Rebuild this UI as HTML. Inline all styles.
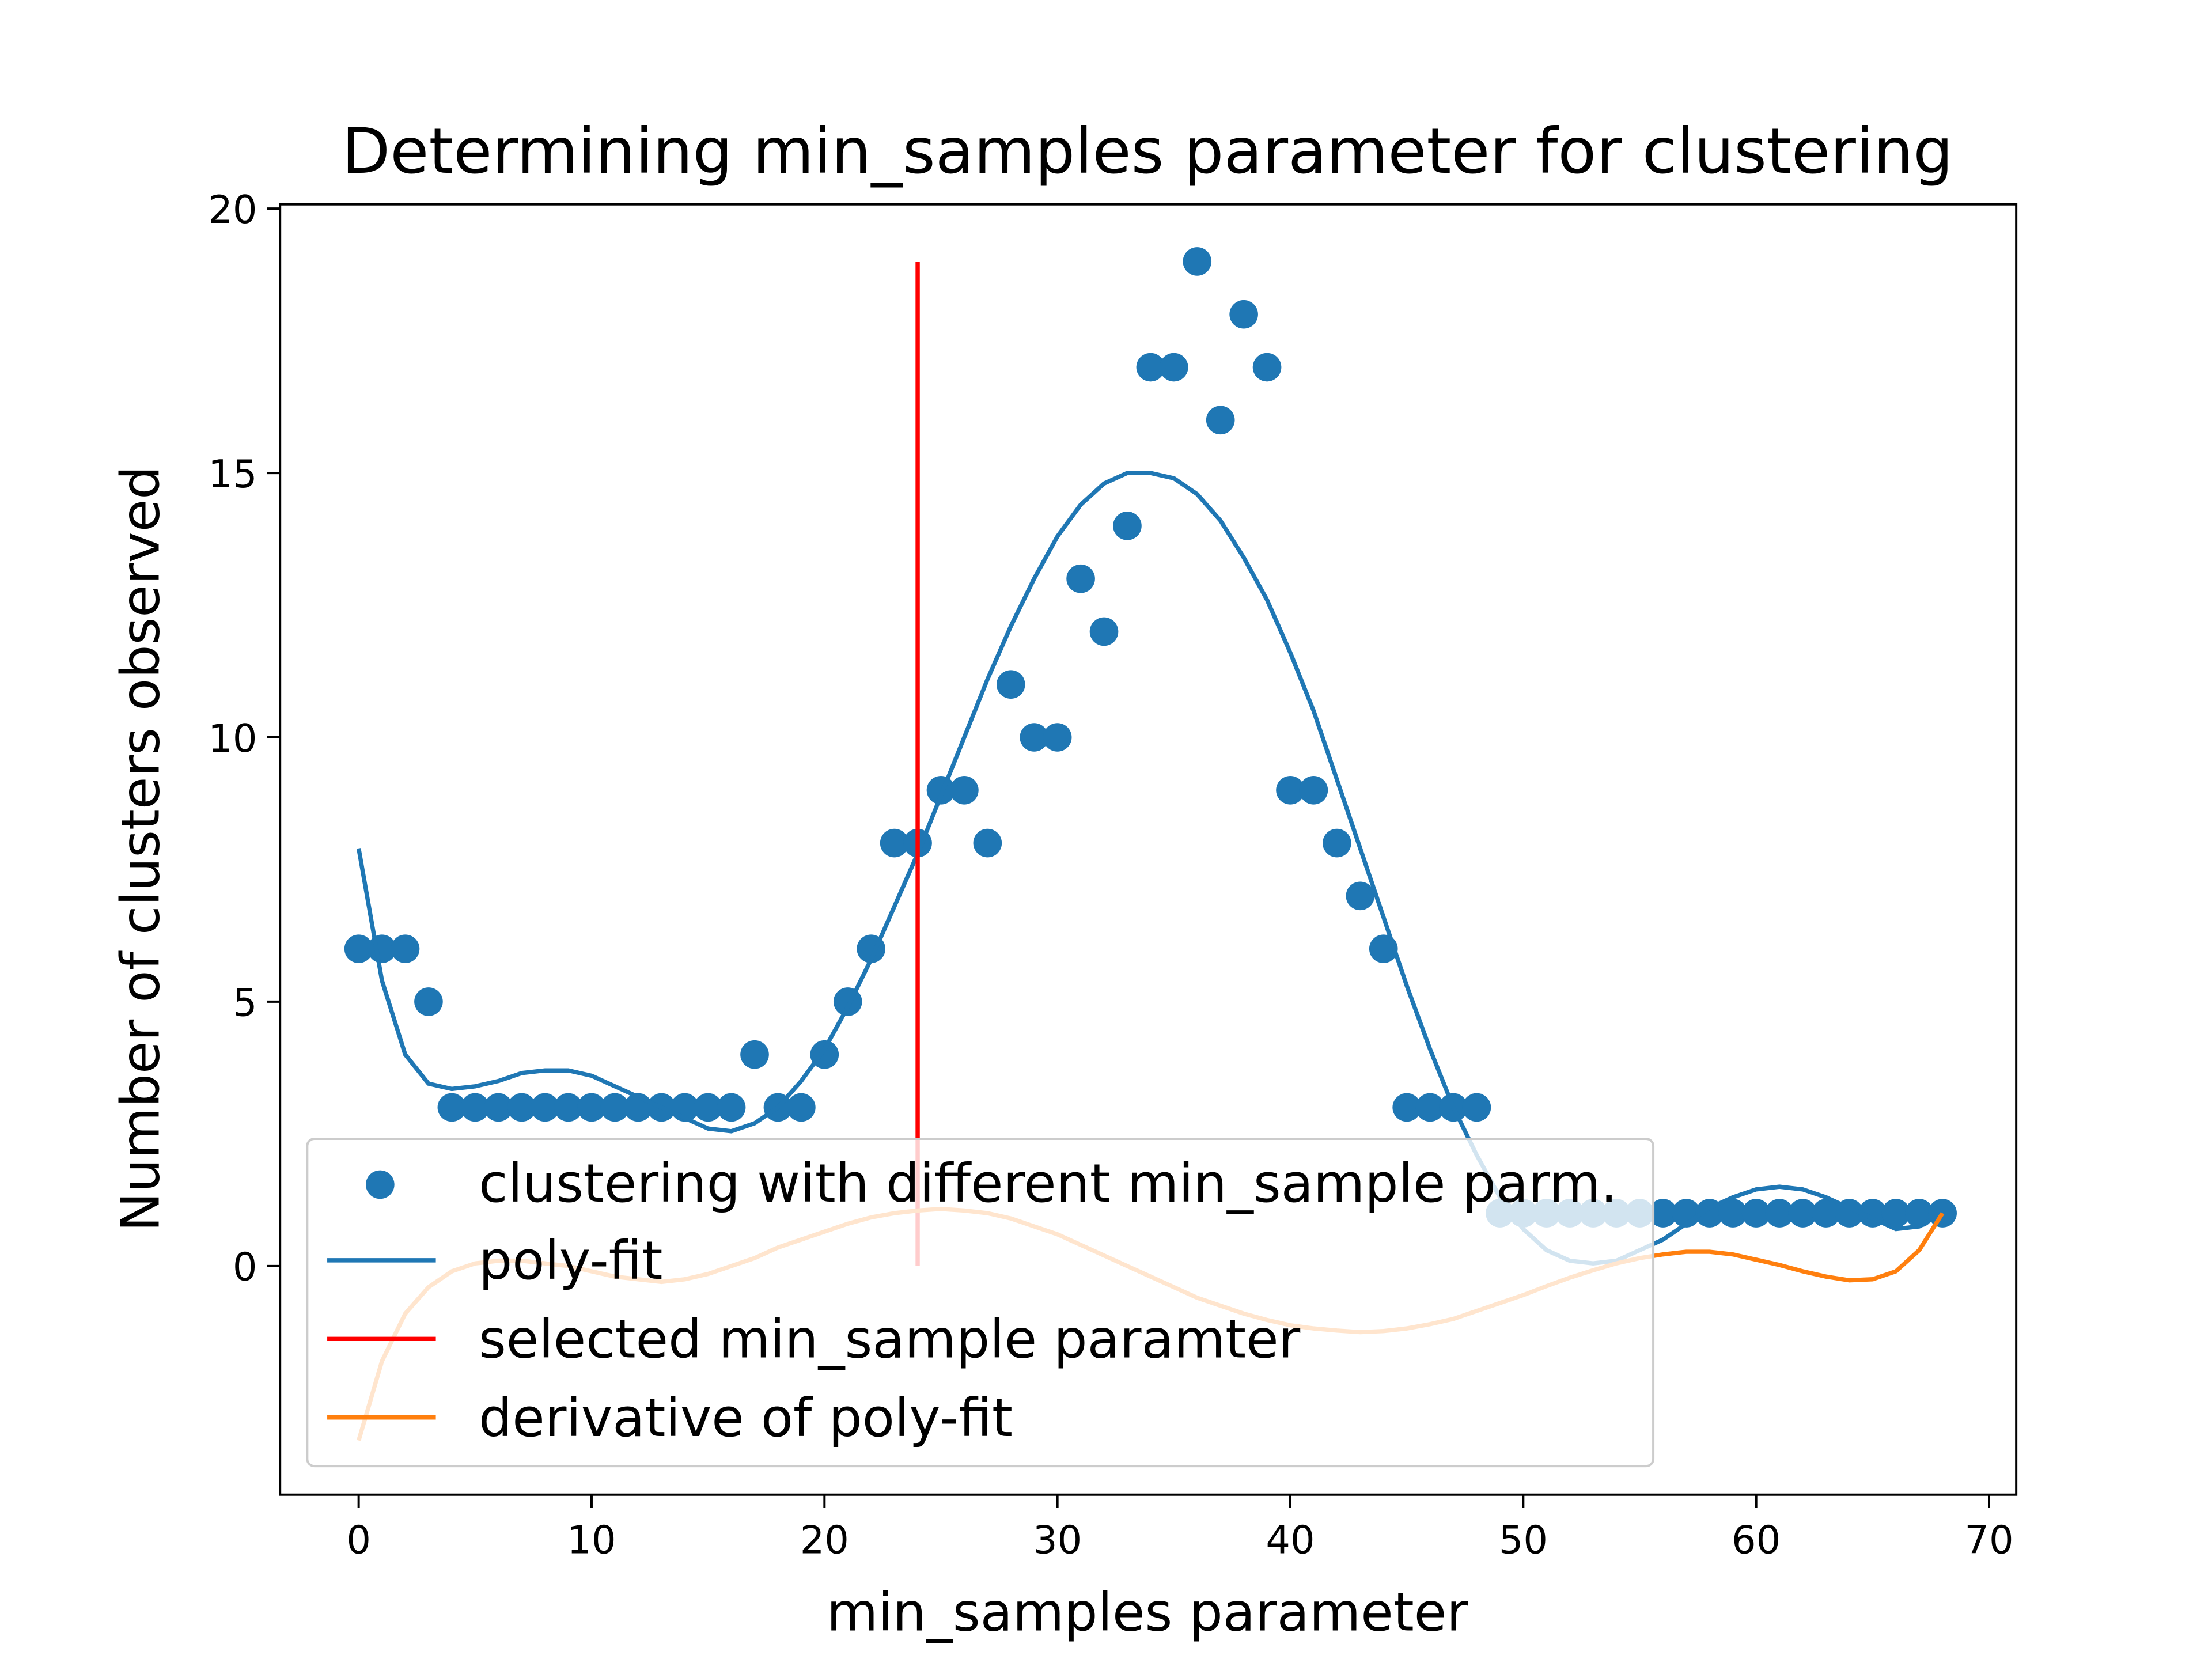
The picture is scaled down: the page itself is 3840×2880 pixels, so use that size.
<!DOCTYPE html>
<html><head><meta charset="utf-8"><style>html,body{margin:0;padding:0;background:#fff}svg{display:block}text{font-family:"DejaVu Sans","Liberation Sans",sans-serif}</style></head>
<body>
<svg id="chart" width="3840" height="2880" viewBox="0 0 1548 1161" xmlns="http://www.w3.org/2000/svg">
<rect width="1548" height="1161" fill="#fff"/>
<text x="803" y="121" font-size="44" text-anchor="middle">Determining min_samples parameter for clustering</text>
<g id="plot"></g>
<rect x="196" y="143" width="1215" height="903" fill="none" stroke="#000" stroke-width="1.6"/>
<g id="ticks"></g>
<text x="803" y="1141" font-size="37" text-anchor="middle">min_samples parameter</text>
<text transform="translate(111,594) rotate(-90)" font-size="37" text-anchor="middle">Number of clusters observed</text>
<g id="legend">
<rect x="215" y="797" width="942" height="229" rx="5" fill="#fff" fill-opacity="0.8" stroke="#ccc" stroke-width="1.6"/>
<circle cx="266" cy="829" r="10" fill="#1f77b4"/>
<text x="335" y="841" font-size="37">clustering with different min_sample parm.</text>
<line x1="229" y1="882" x2="305" y2="882" stroke="#1f77b4" stroke-width="3"/>
<text x="335" y="895" font-size="37">poly-fit</text>
<line x1="229" y1="937" x2="305" y2="937" stroke="#ff0000" stroke-width="3"/>
<text x="335" y="950" font-size="37">selected min_sample paramter</text>
<line x1="229" y1="992" x2="305" y2="992" stroke="#ff7f0e" stroke-width="3"/>
<text x="335" y="1005" font-size="37">derivative of poly-fit</text>
</g>
</svg>
<script>
const clusters=[6,6,6,5,3,3,3,3,3,3,3,3,3,3,3,3,3,4,3,3,4,5,6,8,8,9,9,8,11,10,10,13,12,14,17,17,19,16,18,17,9,9,8,7,6,3,3,3,3,1,1,1,1,1,1,1,1,1,1,1,1,1,1,1,1,1,1,1,1];
const polyFit=[7.9,5.4,4.0,3.45,3.35,3.4,3.5,3.65,3.7,3.7,3.6,3.4,3.2,3.0,2.8,2.6,2.55,2.7,3.0,3.5,4.1,4.9,5.8,6.8,7.8,8.9,10.0,11.1,12.1,13.0,13.8,14.4,14.8,15.0,15.0,14.9,14.6,14.1,13.4,12.6,11.6,10.5,9.2,7.9,6.6,5.3,4.1,3.0,2.1,1.3,0.7,0.3,0.1,0.05,0.1,0.3,0.5,0.8,1.1,1.3,1.45,1.5,1.45,1.3,1.1,0.9,0.7,0.75,1.0];
const derivative=[-3.3,-1.8,-0.9,-0.4,-0.1,0.05,0.1,0.1,0.05,0,-0.1,-0.2,-0.25,-0.3,-0.25,-0.15,0,0.15,0.35,0.5,0.65,0.8,0.92,1.0,1.05,1.08,1.05,1.0,0.9,0.75,0.6,0.4,0.2,0,-0.2,-0.4,-0.6,-0.75,-0.9,-1.02,-1.12,-1.18,-1.22,-1.25,-1.23,-1.18,-1.1,-1.0,-0.85,-0.7,-0.55,-0.38,-0.22,-0.08,0.05,0.15,0.22,0.27,0.27,0.22,0.12,0.02,-0.1,-0.2,-0.27,-0.25,-0.1,0.3,1.0];
const selectedX=24, selectedY0=0, selectedY1=19;
const xTicks=[0,10,20,30,40,50,60,70];
const yTicks=[0,5,10,15,20];
const NS="http://www.w3.org/2000/svg";
const X=v=>251+v*(1392-251)/70;
const Y=v=>886-v*(886-146)/20;
const plot=document.getElementById('plot'), ticks=document.getElementById('ticks');
function mk(t,a,p){const e=document.createElementNS(NS,t);for(const k in a)e.setAttribute(k,a[k]);p.appendChild(e);return e;}
clusters.forEach((v,i)=>{const c=mk('circle',{cx:X(i),cy:Y(v),r:10,fill:'#1f77b4'},plot);

});
const pf=mk('polyline',{points:polyFit.map((v,i)=>X(i)+','+Y(v)).join(' '),fill:'none',stroke:'#1f77b4','stroke-width':3},plot);


const rl=mk('line',{x1:X(selectedX),x2:X(selectedX),y1:Y(selectedY0),y2:Y(selectedY1),stroke:'#ff0000','stroke-width':3},plot);


const dl=mk('polyline',{points:derivative.map((v,i)=>X(i)+','+Y(v)).join(' '),fill:'none',stroke:'#ff7f0e','stroke-width':3},plot);


xTicks.forEach(v=>{const l=mk('line',{x1:X(v),x2:X(v),y1:1046,y2:1055,stroke:'#000','stroke-width':1.6},ticks);


const t=mk('text',{x:X(v),y:1087,'font-size':27,'text-anchor':'middle'},ticks);t.textContent=v;

});
yTicks.forEach(v=>{const l=mk('line',{x1:187,x2:196,y1:Y(v),y2:Y(v),stroke:'#000','stroke-width':1.6},ticks);


const t=mk('text',{x:180,y:Y(v)+10,'font-size':27,'text-anchor':'end'},ticks);t.textContent=v;

});
</script>
</body></html>
